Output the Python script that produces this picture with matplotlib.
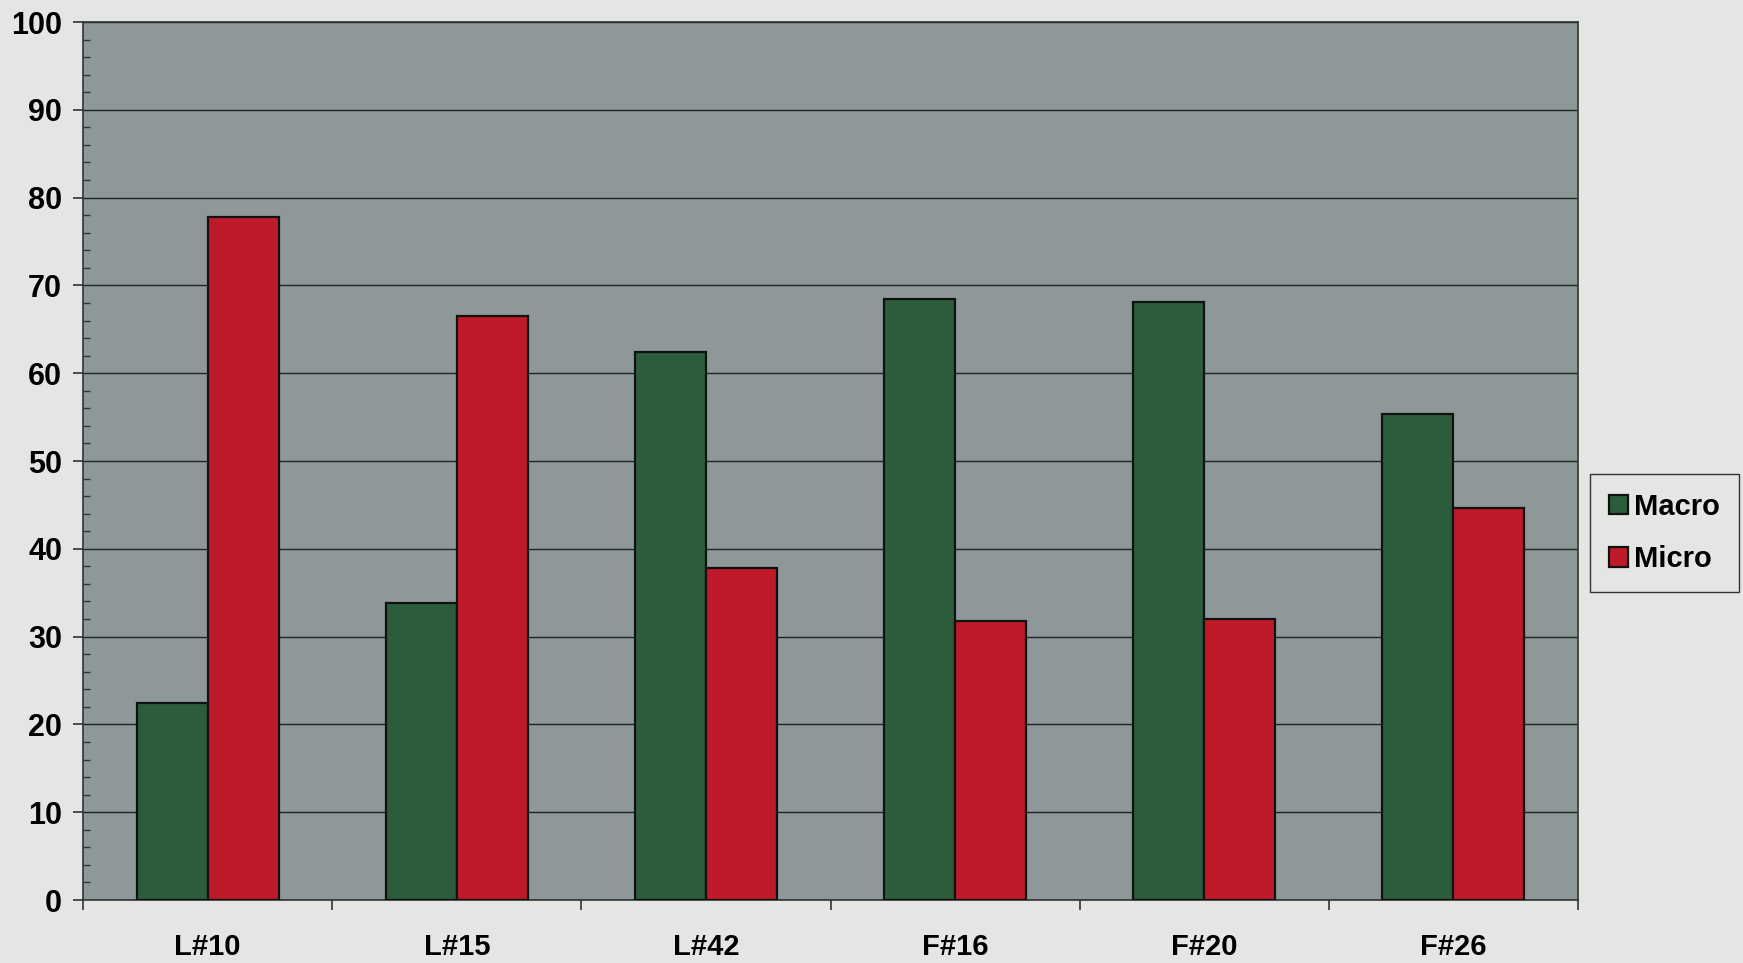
import matplotlib
matplotlib.use("Agg")
import matplotlib.pyplot as plt
import numpy as np
from matplotlib.ticker import MultipleLocator

categories = ["L#10", "L#15", "L#42", "F#16", "F#20", "F#26"]
macro = [22.4, 33.8, 62.4, 68.4, 68.1, 55.4]
micro = [77.8, 66.5, 37.8, 31.8, 32.0, 44.6]
series_names = ["Macro", "Micro"]

fig_bg = "#e4e6e4"
plot_bg = "#8e9898"
green = "#2b5c3c"
red = "#bf1a2a"

plt.rcParams["font.family"] = ["Liberation Sans", "DejaVu Sans"]
plt.rcParams["font.weight"] = "bold"

fig = plt.figure(figsize=(17.43, 9.63), dpi=100, facecolor=fig_bg)
ax = fig.add_axes([83 / 1743, 63 / 963, (1578 - 83) / 1743, (900 - 22) / 963])
ax.set_facecolor(plot_bg)

x = np.arange(len(categories))
w = 0.285
ax.bar(x - w / 2, macro, w, color=green, edgecolor="#111111", linewidth=1.6,
       label=series_names[0], zorder=3)
ax.bar(x + w / 2, micro, w, color=red, edgecolor="#111111", linewidth=1.6,
       label=series_names[1], zorder=3)

ax.set_xlim(-0.5, len(categories) - 0.5)
ax.set_ylim(0, 100)

ax.yaxis.set_major_locator(MultipleLocator(10))
ax.yaxis.set_minor_locator(MultipleLocator(2))
ax.grid(axis="y", which="major", color="#1e2424", linewidth=1.0, zorder=1)
ax.tick_params(axis="y", which="major", direction="out", length=7, width=1.2,
               color="#333333", labelsize=22, pad=8)
ax.tick_params(axis="y", which="minor", direction="in", length=5, width=1.0,
               color="#333333")

ax.set_xticks(x)
ax.set_xticklabels(categories, fontsize=21, fontweight="bold")
ax.set_xticks(np.arange(len(categories) + 1) - 0.5, minor=True)
ax.tick_params(axis="x", which="major", length=0, pad=24)
ax.tick_params(axis="x", which="minor", direction="out", length=7, width=1.2,
               color="#333333")

for s in ax.spines.values():
    s.set_color("#333333")
    s.set_linewidth(1.2)

leg = fig.legend(loc="center left", bbox_to_anchor=(1590 / 1743, 1 - 533 / 963),
                 borderaxespad=0, fontsize=21, frameon=True, fancybox=False,
                 edgecolor="#333333", facecolor=fig_bg, framealpha=1,
                 handlelength=0.65, handleheight=0.65, handletextpad=0.2,
                 labelspacing=0.85, borderpad=0.65)
leg.get_frame().set_linewidth(1.0)
for t in leg.get_texts():
    t.set_fontweight("bold")

fig.savefig("out.png", dpi=100, facecolor=fig_bg)
